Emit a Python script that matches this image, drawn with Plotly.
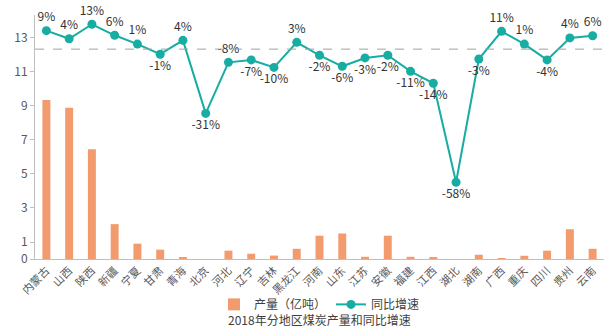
import plotly.graph_objects as go

regions = ["内蒙古", "山西", "陕西", "新疆", "宁夏", "甘肃", "青海", "北京", "河北", "辽宁",
           "吉林", "黑龙江", "河南", "山东", "江苏", "安徽", "福建", "江西", "湖北", "湖南",
           "广西", "重庆", "四川", "贵州", "云南"]
output = [9.35, 8.9, 6.45, 2.05, 0.9, 0.55, 0.06, 0.0, 0.49, 0.31,
          0.2, 0.6, 1.37, 1.5, 0.13, 1.37, 0.13, 0.12, 0.0, 0.25,
          0.05, 0.19, 0.49, 1.75, 0.6]
# growth as plotted (positions)
growth = [9.7, 6.0, 12.6, 7.6, 3.6, -1.0, 5.3, -27.9, -4.7, -3.6,
          -7.0, 4.4, -1.5, -6.5, -2.7, -1.5, -8.8, -14.2, -59.2, -3.2,
          9.4, 3.6, -3.6, 6.4, 7.4]
growth_labels = ["9%", "4%", "13%", "6%", "1%", "-1%", "4%", "-31%", "-8%", "-7%",
                 "-10%", "3%", "-2%", "-6%", "-3%", "-2%", "-11%", "-14%", "-58%", "-3%",
                 "11%", "1%", "-4%", "4%", "6%"]
label_pos = ["top center", "top center", "top center", "top center", "top center",
             "bottom center", "top center", "bottom center", "top center", "bottom center",
             "bottom center", "top center", "bottom center", "bottom center", "bottom center",
             "bottom center", "bottom center", "bottom center", "bottom center", "bottom center",
             "top center", "top center", "bottom center", "top center", "top center"]
ref_level = 1.3
y_ticks = [0, 1, 3, 5, 7, 9, 11, 13]

FONT = "Noto Sans CJK SC"
BAR = "#F29B6E"
TEAL = "#17ADA2"

fig = go.Figure()
fig.add_trace(go.Bar(x=regions, y=output, name="产量（亿吨）", marker_color=BAR,
                     marker_line_width=0, yaxis="y"))
fig.add_trace(go.Scatter(x=regions, y=growth, name="同比增速", mode="lines+markers+text",
                         line=dict(color=TEAL, width=2), marker=dict(color=TEAL, size=9),
                         text=growth_labels, textposition=label_pos,
                         textfont=dict(family=FONT, size=12, color="#333333"),
                         yaxis="y2", cliponaxis=False))
fig.add_shape(type="line", xref="paper", x0=0, x1=1, yref="y2", y0=ref_level, y1=ref_level,
              line=dict(color="#A0A0A0", width=1, dash="dash"))

fig.update_layout(
    width=614, height=327,
    margin=dict(l=35, r=10, t=15, b=68, autoexpand=False),
    paper_bgcolor="white", plot_bgcolor="white",
    font=dict(family=FONT, size=12, color="#595959"),
    bargap=0.65,
    showlegend=True,
    legend=dict(orientation="h", x=0.5, xanchor="center", y=-0.186, yanchor="middle",
                font=dict(family=FONT, size=12, color="#404040"), bgcolor="rgba(0,0,0,0)",
                itemwidth=30, tracegroupgap=0),
    xaxis=dict(tickangle=-45, showgrid=False, showline=True, linecolor="#BFBFBF",
               tickfont=dict(family=FONT, size=11, color="#595959"), ticks="",
               automargin=False, range=[-0.5, len(regions) - 0.5], autorange=False),
    yaxis=dict(range=[0, 14.35], tickvals=y_ticks, showgrid=False, showline=True,
               linecolor="#BFBFBF", ticks="outside", ticklen=4, tickcolor="#BFBFBF",
               tickfont=dict(family=FONT, size=12, color="#595959"), zeroline=False,
               automargin=False),
    yaxis2=dict(range=[-94.09, 16.82], overlaying="y", side="right", visible=False,
                automargin=False),
    annotations=[dict(text="2018年分地区煤炭产量和同比增速", xref="paper", yref="paper",
                      x=0.5, y=-0.246, yshift=0, xanchor="center", yanchor="middle",
                      showarrow=False, font=dict(family=FONT, size=12, color="#404040"))],
)

fig.write_html("out.html")
